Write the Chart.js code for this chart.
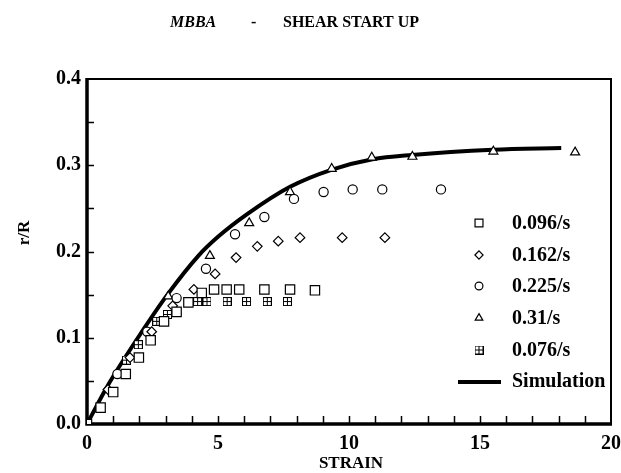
<!DOCTYPE html>
<html>
<head>
<meta charset="utf-8">
<script src="https://cdn.jsdelivr.net/npm/chart.js@4/dist/chart.umd.min.js"></script>
<style>
html,body{margin:0;padding:0;background:#fff;}
canvas{display:block;}
</style>
</head>
<body>
<canvas id="c" width="621" height="473"></canvas>
<script>
// ---- data ----
const strain096 = [0, 0.52, 1.0, 1.48, 1.98, 2.43, 2.94, 3.42, 3.87, 4.38, 4.85, 5.33, 5.81, 6.77, 7.75, 8.70];
const r096      = [0, 0.019, 0.037, 0.058, 0.077, 0.097, 0.119, 0.130, 0.141, 0.152, 0.156, 0.156, 0.156, 0.156, 0.156, 0.155];

const strain162 = [0.80, 1.64, 2.47, 3.27, 4.08, 4.89, 5.69, 6.50, 7.30, 8.13, 9.74, 11.37];
const r162      = [0.040, 0.077, 0.107, 0.137, 0.156, 0.174, 0.193, 0.206, 0.212, 0.216, 0.216, 0.216];

const strain225 = [1.16, 2.30, 3.42, 4.54, 5.65, 6.77, 7.90, 9.03, 10.14, 11.27, 13.51];
const r225      = [0.058, 0.107, 0.146, 0.180, 0.220, 0.240, 0.261, 0.269, 0.272, 0.272, 0.272];

const strain31 = [3.10, 4.69, 6.19, 7.75, 9.34, 10.87, 12.42, 15.51, 18.63];
const r31      = [0.148, 0.195, 0.233, 0.269, 0.296, 0.309, 0.310, 0.316, 0.315];

const strain076 = [1.51, 1.96, 2.66, 3.07, 4.22, 4.58, 5.35, 6.09, 6.88, 7.65];
const r076      = [0.074, 0.092, 0.119, 0.127, 0.142, 0.142, 0.142, 0.142, 0.142, 0.142];

const strainSim = [0, 0.8, 1.9, 3.07, 4.25, 5.0, 6.1, 7.75, 9.35, 10.9, 12.4, 15.5, 18.1];
const rSim      = [0, 0.045, 0.098, 0.150, 0.195, 0.217, 0.243, 0.275, 0.295, 0.307, 0.312, 0.318, 0.320];

const seriesLabels = ['0.096/s', '0.162/s', '0.225/s', '0.31/s', '0.076/s', 'Simulation'];
const xTickLabels = [0, 5, 10, 15, 20];
const yTickLabels = [0.0, 0.1, 0.2, 0.3, 0.4];

const pts = (xs, ys) => xs.map((x, i) => ({x: x, y: ys[i]}));

function crossedSquare(size) {
  const c = document.createElement('canvas');
  c.width = size; c.height = size;
  const g = c.getContext('2d');
  g.fillStyle = '#fff';
  g.fillRect(0, 0, size, size);
  g.strokeStyle = '#000';
  g.lineWidth = 1;
  g.strokeRect(0.5, 0.5, size - 1, size - 1);
  g.beginPath();
  const m = Math.floor(size / 2) + 0.5;
  g.moveTo(m, 0.5); g.lineTo(m, size - 0.5);
  g.moveTo(0.5, m); g.lineTo(size - 0.5, m);
  g.stroke();
  return c;
}
const xsq = crossedSquare(9);

const SERIF = '"Liberation Serif", "DejaVu Serif", serif';

const markerDefs = [
  {style: 'rect', radius: 6.6},
  {style: 'rectRot', radius: 4.8},
  {style: 'circle', radius: 4.6},
  {style: 'triangle', radius: 5.2},
  {style: xsq, radius: 5}
];

const decor = {
  id: 'decor',
  beforeDatasetsDraw(chart) {
    const {ctx, chartArea: a, scales: {x, y}} = chart;
    ctx.save();
    ctx.strokeStyle = '#000';
    ctx.lineWidth = 1.5;
    ctx.beginPath();
    for (let v = 1; v < 20; v++) {
      const px = Math.round(x.getPixelForValue(v)) + 0.5;
      ctx.moveTo(px, a.bottom); ctx.lineTo(px, a.bottom - 8);
    }
    for (let k = 1; k < 8; k++) {
      const py = Math.round(y.getPixelForValue(k * 0.05)) + 0.5;
      ctx.moveTo(a.left, py); ctx.lineTo(a.left + 7, py);
    }
    ctx.stroke();
    // frame
    ctx.lineWidth = 2;
    ctx.beginPath();
    ctx.moveTo(a.left, a.top); ctx.lineTo(a.right, a.top); ctx.lineTo(a.right, a.bottom);
    ctx.stroke();
    ctx.lineWidth = 3.5;
    ctx.beginPath();
    ctx.moveTo(a.left, a.top - 1); ctx.lineTo(a.left, a.bottom); ctx.lineTo(a.right + 1, a.bottom);
    ctx.stroke();
    ctx.restore();
  },
  afterDraw(chart) {
    const {ctx} = chart;
    ctx.save();
    ctx.fillStyle = '#000';
    ctx.textBaseline = 'middle';
    // title
    ctx.textAlign = 'left';
    ctx.font = 'italic bold 16px ' + SERIF;
    ctx.fillText('MBBA', 170, 23);
    ctx.font = 'bold 16px ' + SERIF;
    ctx.fillText('-', 251, 23);
    ctx.fillText('SHEAR START UP', 283, 23);
    // axis titles
    ctx.font = 'bold 17px ' + SERIF;
    ctx.textAlign = 'center';
    ctx.fillText('STRAIN', 351, 464);
    ctx.save();
    ctx.translate(25, 233);
    ctx.rotate(-Math.PI / 2);
    ctx.fillText('r/R', 0, 0);
    ctx.restore();
    // legend
    const rows = [223, 255, 286, 318, 350];
    ctx.font = 'bold 20px ' + SERIF;
    ctx.textAlign = 'left';
    chart.data.datasets.forEach((ds, i) => {
      if (i < 5) {
        ctx.save();
        ctx.strokeStyle = '#000';
        ctx.fillStyle = '#fff';
        ctx.lineWidth = 1.2;
        const st = markerDefs[i].style;
        if (typeof st === 'string') {
          Chart.helpers.drawPoint(ctx, {pointStyle: st, radius: markerDefs[i].radius * 0.85, rotation: 0, borderWidth: 1.2}, 479, rows[i]);
        } else {
          ctx.drawImage(st, 479 - 4.5, rows[i] - 4.5);
        }
        ctx.restore();
        ctx.fillStyle = '#000';
        ctx.fillText(ds.label, 512, rows[i] + 1);
      }
    });
    ctx.lineWidth = 4;
    ctx.strokeStyle = '#000';
    ctx.beginPath();
    ctx.moveTo(458, 382); ctx.lineTo(501, 382);
    ctx.stroke();
    ctx.fillText(seriesLabels[5], 512, 382);
    ctx.restore();
  }
};

const datasets = [0, 1, 2, 3, 4].map(i => ({
  label: seriesLabels[i],
  data: pts([strain096, strain162, strain225, strain31, strain076][i], [r096, r162, r225, r31, r076][i]),
  showLine: false,
  pointStyle: markerDefs[i].style,
  pointRadius: markerDefs[i].radius,
  pointBorderColor: '#000',
  pointBackgroundColor: '#fff',
  pointBorderWidth: 1.2,
  order: 1
}));
datasets.push({
  label: seriesLabels[5],
  data: pts(strainSim, rSim),
  showLine: true,
  borderColor: '#000',
  borderWidth: 4,
  pointRadius: 0,
  cubicInterpolationMode: 'monotone',
  order: 5
});

new Chart(document.getElementById('c'), {
  type: 'scatter',
  data: {datasets: datasets},
  options: {
    responsive: false,
    devicePixelRatio: 1,
    animation: false,
    layout: {padding: {top: 79, right: 10, left: 0, bottom: 0}},
    plugins: {legend: {display: false}, tooltip: {enabled: false}, title: {display: false}},
    scales: {
      x: {
        type: 'linear', min: 0, max: 20,
        grid: {display: false, drawTicks: false, tickLength: 0}, border: {display: false},
        ticks: {
          stepSize: 1, autoSkip: false, maxRotation: 0, padding: 8,
          color: '#000', font: {family: SERIF, size: 20, weight: 'bold'},
          callback: v => xTickLabels.includes(v) ? String(v) : ''
        },
        afterFit: s => { s.height = 49; s.paddingRight = 0; s.paddingLeft = 0; }
      },
      y: {
        type: 'linear', min: 0, max: 0.4,
        grid: {display: false, drawTicks: false, tickLength: 0}, border: {display: false},
        ticks: {
          stepSize: 0.05, autoSkip: false, padding: 6,
          color: '#000', font: {family: SERIF, size: 20, weight: 'bold'},
          callback: v => {
            const hit = yTickLabels.find(t => Math.abs(t - v) < 1e-6);
            return hit !== undefined ? hit.toFixed(1) : '';
          }
        },
        afterFit: s => { s.width = 87; s.paddingTop = 0; s.paddingBottom = 0; }
      }
    }
  },
  plugins: [decor]
});
</script>
</body>
</html>
